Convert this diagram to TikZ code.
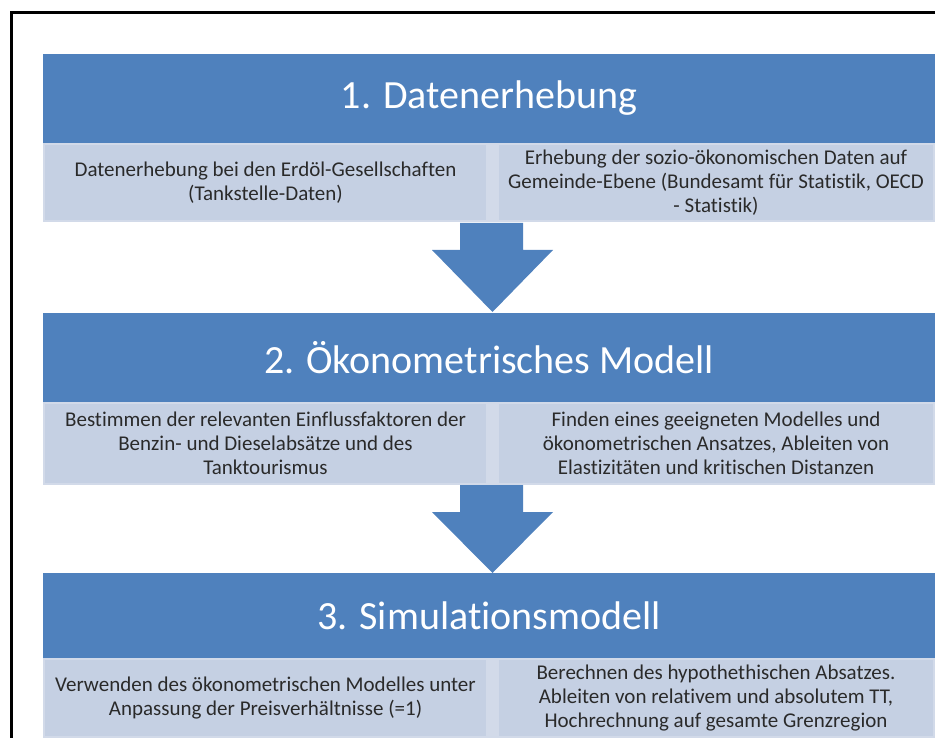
\documentclass[tikz,border=0pt]{standalone}
\usepackage{fontspec}
\setmainfont[Ligatures={NoCommon}]{Carlito}
\definecolor{hblue}{HTML}{4F81BD}
\definecolor{lpanel}{HTML}{C5D0E3}
\definecolor{lrim}{HTML}{D2DAE9}
\definecolor{btext}{HTML}{2A2A2A}
\begin{document}
\begin{tikzpicture}[x=1pt,y=-1pt,
  header/.style={fill=hblue,draw=none,text=white,inner sep=0pt,minimum width=892pt,font=\fontsize{40}{46}\selectfont},
  rim/.style={fill=lrim,draw=none,inner sep=0pt,minimum width=892pt},
  cell/.style={fill=lpanel,draw=none,inner sep=0pt,text=btext,align=center,font=\fontsize{21}{24}\selectfont},
  bigarrow/.style={fill=hblue,draw=none}]
\useasboundingbox (0,0) rectangle (935,738);
% frame
\draw[line width=3pt,line cap=rect] (11,738) -- (11,12.5) -- (935,12.5);
% ---------- stage 1
\node[header,minimum height=89pt] (h1) at (489,98.5) {1. Datenerhebung};
\node[rim,minimum height=79pt] (r1) at (489,182.5) {};
\node[cell,minimum width=441pt,minimum height=75pt] (c1a) at (265.5,182.5) {Datenerhebung bei den Erdöl-Gesellschaften\\(Tankstelle-Daten)};
\node[cell,minimum width=434pt,minimum height=75pt] (c1b) at (716,182.5) {Erhebung der sozio-ökonomischen Daten auf\\Gemeinde-Ebene (Bundesamt für Statistik, OECD\\- Statistik)};
% arrow 1
\fill[bigarrow] (460,223) -- (523,223) -- (523,250) -- (553,250) -- (492.5,312) -- (432,250) -- (460,250) -- cycle;
% ---------- stage 2
\node[header,minimum height=89pt] (h2) at (489,358) {2. Ökonometrisches Modell};
\node[rim,minimum height=83pt] (r2) at (489,443.5) {};
\node[cell,minimum width=441pt,minimum height=79pt] (c2a) at (265.5,443.5) {Bestimmen der relevanten Einflussfaktoren der\\Benzin- und Dieselabsätze und des\\Tanktourismus};
\node[cell,minimum width=434pt,minimum height=79pt] (c2b) at (716,443.5) {Finden eines geeigneten Modelles und\\ökonometrischen Ansatzes, Ableiten von\\Elastizitäten und kritischen Distanzen};
% arrow 2
\fill[bigarrow] (460,485) -- (523,485) -- (523,512) -- (553,512) -- (492.5,573) -- (432,512) -- (460,512) -- cycle;
% ---------- stage 3
\node[header,minimum height=85pt] (h3) at (489,615.5) {3. Simulationsmodell};
\node[rim,minimum height=80pt] (r3) at (489,698) {};
\node[cell,minimum width=441pt,minimum height=76pt] (c3a) at (265.5,698) {Verwenden des ökonometrischen Modelles unter\\Anpassung der Preisverhältnisse (=1)};
\node[cell,minimum width=434pt,minimum height=76pt] (c3b) at (716,698) {Berechnen des hypothethischen Absatzes.\\Ableiten von relativem und absolutem TT,\\Hochrechnung auf gesamte Grenzregion};
\end{tikzpicture}
\end{document}
